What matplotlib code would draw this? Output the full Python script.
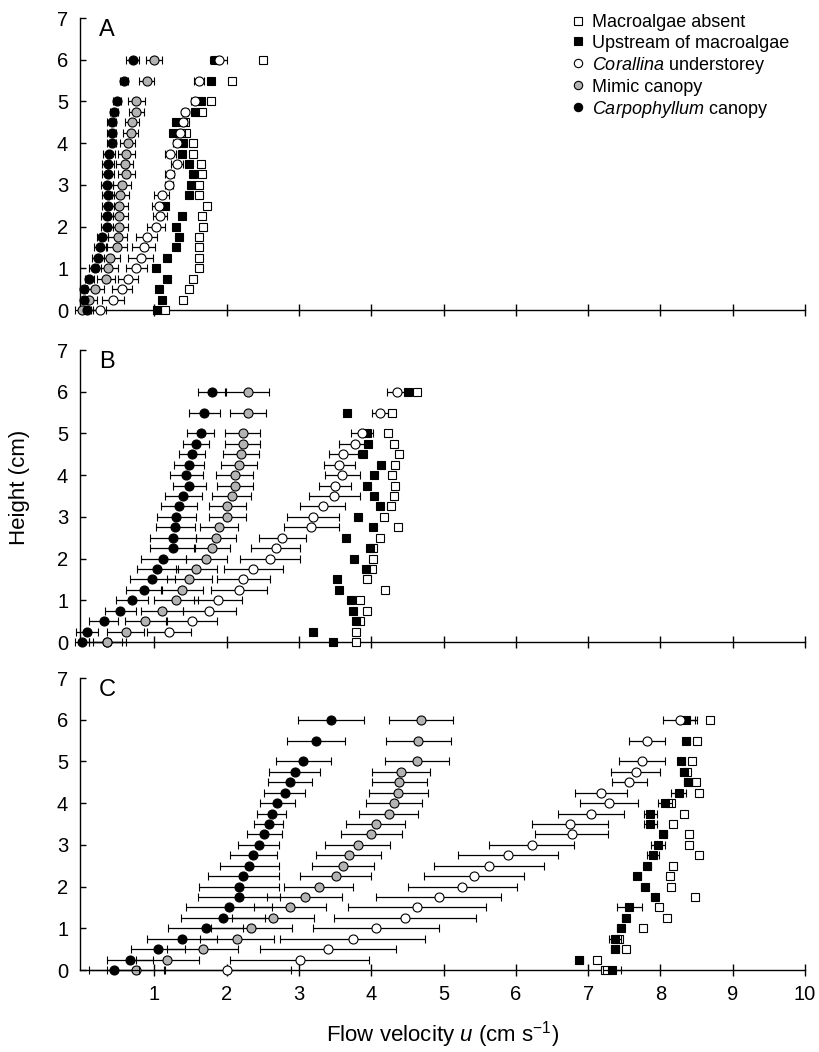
import matplotlib
matplotlib.use('Agg')
import matplotlib.pyplot as plt
from matplotlib.lines import Line2D

plt.rcParams['font.family'] = ['Liberation Sans', 'DejaVu Sans']
plt.rcParams['mathtext.fontset'] = 'custom'
plt.rcParams['mathtext.rm'] = 'Liberation Sans'
plt.rcParams['mathtext.it'] = 'Liberation Sans:italic'

# heights (cm), listed from top (6) to bottom (0)
heights = [6, 5.5, 5, 4.75, 4.5, 4.25, 4, 3.75, 3.5, 3.25, 3, 2.75, 2.5,
           2.25, 2, 1.75, 1.5, 1.25, 1, 0.75, 0.5, 0.25, 0]

series_labels = ['Macroalgae absent', 'Upstream of macroalgae',
                 r'$\it{Corallina}$ understorey', 'Mimic canopy',
                 r'$\it{Carpophyllum}$ canopy']

# ---------------- Panel A ----------------
A_absent = [2.50, 2.07, 1.78, 1.66, 1.42, 1.44, 1.54, 1.54, 1.64, 1.66, 1.62, 1.62, 1.73,
            1.66, 1.67, 1.62, 1.62, 1.62, 1.62, 1.54, 1.48, 1.40, 1.14]
A_upstream = [1.84, 1.78, 1.65, 1.56, 1.30, 1.25, 1.40, 1.38, 1.48, 1.54, 1.50, 1.48, 1.15,
              1.38, 1.30, 1.34, 1.30, 1.18, 1.02, 1.18, 1.06, 1.11, 1.03]
A_corallina = [1.89, 1.62, 1.56, 1.42, 1.40, 1.36, 1.31, 1.22, 1.31, 1.21, 1.20, 1.10, 1.06,
               1.08, 1.02, 0.89, 0.85, 0.81, 0.75, 0.63, 0.55, 0.43, 0.24]
A_mimic = [0.99, 0.89, 0.75, 0.75, 0.69, 0.67, 0.63, 0.61, 0.59, 0.61, 0.55, 0.53, 0.51,
           0.51, 0.51, 0.49, 0.48, 0.39, 0.36, 0.33, 0.18, 0.10, 0.00]
A_carpo = [0.70, 0.58, 0.48, 0.44, 0.41, 0.41, 0.41, 0.375, 0.36, 0.36, 0.34, 0.36, 0.36,
           0.34, 0.34, 0.28, 0.25, 0.22, 0.18, 0.10, 0.02, 0.02, 0.07]
A_absent_err = [0.03] * 23
A_upstream_err = [0.03] * 23
A_corallina_err = [0.12, 0.07, 0.05, 0.04, 0.05, 0.06, 0.06, 0.08, 0.08, 0.06, 0.06, 0.10, 0.10,
                   0.10, 0.12, 0.15, 0.16, 0.17, 0.15, 0.14, 0.14, 0.15, 0.09]
A_mimic_err = [0.11, 0.10, 0.12, 0.10, 0.10, 0.10, 0.10, 0.12, 0.12, 0.12, 0.12, 0.12, 0.12,
               0.12, 0.13, 0.13, 0.14, 0.14, 0.14, 0.12, 0.12, 0.10, 0.10]
A_carpo_err = [0.09, 0.05, 0.06, 0.06, 0.06, 0.06, 0.06, 0.08, 0.08, 0.08, 0.08, 0.08, 0.08,
               0.08, 0.08, 0.08, 0.08, 0.08, 0.08, 0.06, 0.05, 0.05, 0.05]

# ---------------- Panel B ----------------
B_absent = [4.63, 4.29, 4.23, 4.31, 4.39, 4.33, 4.29, 4.33, 4.31, 4.27, 4.18, 4.37, 4.12,
            4.02, 4.02, 4.01, 3.94, 4.19, 3.85, 3.94, 3.85, 3.79, 3.79]
B_upstream = [4.51, 3.67, 3.94, 3.95, 3.88, 4.14, 4.04, 3.94, 4.04, 4.12, 3.82, 4.02, 3.65,
              3.98, 3.76, 3.92, 3.53, 3.56, 3.72, 3.75, 3.79, 3.19, 3.47]
B_corallina = [4.35, 4.12, 3.875, 3.78, 3.61, 3.56, 3.60, 3.50, 3.49, 3.33, 3.19, 3.17, 2.77,
               2.68, 2.60, 2.37, 2.23, 2.17, 1.875, 1.76, 1.52, 1.20, 0.35]
B_mimic = [2.29, 2.29, 2.22, 2.22, 2.20, 2.17, 2.11, 2.11, 2.07, 2.01, 2.01, 1.89, 1.85,
           1.80, 1.72, 1.58, 1.48, 1.38, 1.30, 1.11, 0.875, 0.60, 0.35]
B_carpo = [1.79, 1.69, 1.64, 1.57, 1.52, 1.48, 1.44, 1.48, 1.40, 1.34, 1.30, 1.29, 1.26,
           1.25, 1.125, 1.04, 0.97, 0.85, 0.69, 0.53, 0.30, 0.07, 0.00]
B_absent_err = [0.03] * 23
B_upstream_err = [0.03] * 23
B_corallina_err = [0.13, 0.11, 0.155, 0.22, 0.20, 0.22, 0.24, 0.22, 0.35, 0.31, 0.36, 0.38, 0.33,
                   0.34, 0.42, 0.41, 0.37, 0.39, 0.33, 0.37, 0.35, 0.30, 0.25]
B_mimic_err = [0.30, 0.25, 0.24, 0.24, 0.25, 0.25, 0.26, 0.25, 0.27, 0.26, 0.25, 0.26, 0.28,
               0.25, 0.29, 0.28, 0.31, 0.29, 0.30, 0.29, 0.28, 0.25, 0.20]
B_carpo_err = [0.19, 0.21, 0.19, 0.18, 0.18, 0.21, 0.23, 0.23, 0.26, 0.25, 0.27, 0.27, 0.32,
               0.31, 0.31, 0.28, 0.31, 0.25, 0.22, 0.21, 0.20, 0.15, 0.10]

# ---------------- Panel C ----------------
C_absent = [8.68, 8.50, 8.44, 8.37, 8.49, 8.54, 8.15, 8.33, 8.17, 8.40, 8.39, 8.54, 8.17,
            8.13, 8.15, 8.48, 7.98, 8.09, 7.76, 7.42, 7.53, 7.12, 7.24]
C_upstream = [8.36, 8.36, 8.29, 8.32, 8.38, 8.25, 8.06, 7.86, 7.86, 8.04, 7.97, 7.90, 7.82,
              7.68, 7.78, 7.92, 7.57, 7.52, 7.45, 7.37, 7.37, 6.88, 7.33]
C_corallina = [8.27, 7.82, 7.74, 7.66, 7.57, 7.18, 7.29, 7.04, 6.75, 6.77, 6.22, 5.89, 5.63,
               5.42, 5.26, 4.93, 4.63, 4.47, 4.06, 3.74, 3.40, 3.01, 2.01]
C_mimic = [4.69, 4.65, 4.63, 4.41, 4.39, 4.375, 4.31, 4.24, 4.06, 4.00, 3.81, 3.69, 3.61,
           3.51, 3.27, 3.08, 2.875, 2.64, 2.34, 2.14, 1.67, 1.18, 0.74]
C_carpo = [3.44, 3.23, 3.06, 2.94, 2.875, 2.80, 2.70, 2.62, 2.58, 2.52, 2.44, 2.37, 2.31,
           2.23, 2.17, 2.17, 2.03, 1.95, 1.71, 1.38, 1.05, 0.66, 0.44]
C_absent_err = [0.03] * 23
C_upstream_err = [0.12, 0.05, 0.05, 0.05, 0.05, 0.10, 0.10, 0.09, 0.09, 0.05, 0.10, 0.08, 0.05,
                  0.05, 0.05, 0.05, 0.17, 0.05, 0.05, 0.08, 0.05, 0.05, 0.12]
C_corallina_err = [0.23, 0.25, 0.32, 0.34, 0.24, 0.36, 0.40, 0.46, 0.52, 0.50, 0.59, 0.69, 0.76,
                   0.69, 0.75, 0.87, 0.95, 0.98, 0.87, 1.00, 0.94, 0.96, 0.88]
C_mimic_err = [0.44, 0.45, 0.44, 0.40, 0.38, 0.41, 0.39, 0.41, 0.41, 0.42, 0.45, 0.45, 0.43,
               0.49, 0.48, 0.52, 0.50, 0.57, 0.56, 0.51, 0.49, 0.44, 0.40]
C_carpo_err = [0.46, 0.40, 0.38, 0.35, 0.30, 0.28, 0.24, 0.20, 0.20, 0.24, 0.28, 0.33, 0.41,
               0.49, 0.55, 0.57, 0.60, 0.58, 0.52, 0.48, 0.37, 0.32, 0.35]

panels = [
    ('A', [A_absent, A_upstream, A_corallina, A_mimic, A_carpo],
          [A_absent_err, A_upstream_err, A_corallina_err, A_mimic_err, A_carpo_err]),
    ('B', [B_absent, B_upstream, B_corallina, B_mimic, B_carpo],
          [B_absent_err, B_upstream_err, B_corallina_err, B_mimic_err, B_carpo_err]),
    ('C', [C_absent, C_upstream, C_corallina, C_mimic, C_carpo],
          [C_absent_err, C_upstream_err, C_corallina_err, C_mimic_err, C_carpo_err]),
]

GREY = '#b3b3b3'
styles = [
    dict(marker='s', mfc='white', ms=6.0),
    dict(marker='s', mfc='black', ms=6.0),
    dict(marker='o', mfc='white', ms=6.5),
    dict(marker='o', mfc=GREY, ms=6.5),
    dict(marker='o', mfc='black', ms=6.5),
]

W_PX, H_PX = 819, 1052
fig = plt.figure(figsize=(W_PX / 100, H_PX / 100), dpi=100)

left_px, right_px = 80, 805
tops = [18, 350, 678]
panel_h = 292

axes = []
for i, (letter, vals, errs) in enumerate(panels):
    top = tops[i]
    ax = fig.add_axes([left_px / W_PX, 1 - (top + panel_h) / H_PX,
                       (right_px - left_px) / W_PX, panel_h / H_PX])
    axes.append(ax)
    for j, (v, e) in enumerate(zip(vals, errs)):
        st = styles[j]
        cont = ax.errorbar(v, heights, xerr=e, fmt=st['marker'], ms=st['ms'],
                           mfc=st['mfc'], mec='black', mew=0.8,
                           ecolor='black', elinewidth=0.9, capsize=3.2,
                           capthick=0.9, zorder=3 + j)
        for art in cont.get_children():
            art.set_clip_on(False)
    ax.set_xlim(-0.03, 10)
    ax.set_ylim(0, 7)
    ax.spines['top'].set_visible(False)
    ax.spines['right'].set_visible(False)
    for s in ('left', 'bottom'):
        ax.spines[s].set_linewidth(1.0)
    ax.set_xticks(range(1, 11))
    ax.set_yticks(range(0, 8))
    ax.tick_params(axis='y', direction='in', length=4.5, width=1.0,
                   labelsize=14.5, pad=8.5)
    ax.tick_params(axis='x', direction='inout', length=8, width=1.0,
                   labelsize=14.5, pad=7)
    if i < 2:
        ax.tick_params(axis='x', labelbottom=False)
    ax.text(0.037, 0.958, letter, transform=ax.transAxes, fontsize=17,
            ha='center', va='center')

# legend in panel A
handles = []
for j, st in enumerate(styles):
    handles.append(Line2D([], [], linestyle='none', marker=st['marker'],
                          ms=st['ms'] - 0.5, mfc=st['mfc'], mec='black', mew=0.8))
axes[0].legend(handles, series_labels, loc='upper left',
               bbox_to_anchor=((572 - left_px) / (right_px - left_px), 1.012),
               frameon=False, fontsize=13, handlelength=0.7,
               handletextpad=0.4, labelspacing=0.17, borderpad=0,
               borderaxespad=0)

fig.text(20 / W_PX, 1 - 487 / H_PX, 'Height (cm)', rotation=90,
         ha='center', va='center', fontsize=16)
fig.text((left_px + right_px) / 2 / W_PX, 1 - 1035 / H_PX,
         r'Flow velocity $\it{u}$ (cm s$^{-1}$)', ha='center', va='center',
         fontsize=16)

fig.savefig('out.png', dpi=100)
